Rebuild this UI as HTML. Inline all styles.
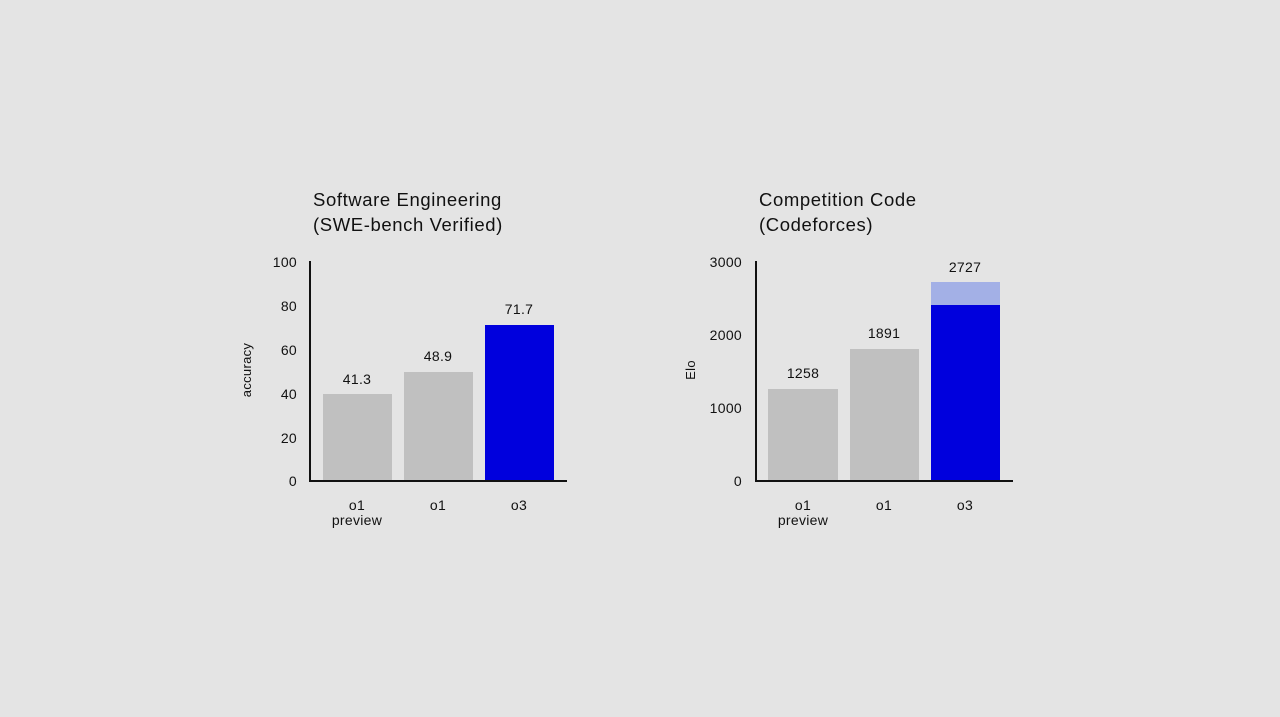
<!DOCTYPE html>
<html><head><style>
body{margin:0;background:#e4e4e4;}
svg{display:block;font-family:"Liberation Sans",sans-serif;}
</style></head><body>
<svg width="1280" height="717" viewBox="0 0 1280 717">
<rect width="1280" height="717" fill="#e4e4e4"/>
<g fill="#111" font-size="18.5" letter-spacing="0.6">
<text x="313" y="206">Software Engineering</text>
<text x="313" y="231">(SWE-bench Verified)</text>
<text x="759" y="206">Competition Code</text>
<text x="759" y="231">(Codeforces)</text>
</g>
<!-- left chart -->
<rect x="323" y="394" width="69" height="87" fill="#c0c0c0"/>
<rect x="404" y="372" width="69" height="109" fill="#c0c0c0"/>
<rect x="485" y="325" width="69" height="156" fill="#0000dd"/>
<path d="M310 261V481H567" stroke="#111" stroke-width="2" fill="none"/>
<g font-size="14" fill="#111" text-anchor="end" letter-spacing="0.3">
<text x="297" y="267">100</text><text x="297" y="311">80</text><text x="297" y="355">60</text>
<text x="297" y="399">40</text><text x="297" y="443">20</text><text x="297" y="486">0</text>
</g>
<g font-size="14" fill="#111" text-anchor="middle" letter-spacing="0.3">
<text x="357" y="384">41.3</text><text x="438" y="361">48.9</text><text x="519" y="314">71.7</text>
<text x="357" y="510">o1</text><text x="357" y="525">preview</text>
<text x="438" y="510">o1</text><text x="519" y="510">o3</text>
<text transform="translate(251,370) rotate(-90)" font-size="13">accuracy</text>
</g>
<!-- right chart -->
<rect x="768" y="389" width="70" height="92" fill="#c0c0c0"/>
<rect x="850" y="349" width="69" height="132" fill="#c0c0c0"/>
<rect x="931" y="282" width="69" height="23" fill="#a3b0e6"/>
<rect x="931" y="305" width="69" height="176" fill="#0000dd"/>
<path d="M756 261V481H1013" stroke="#111" stroke-width="2" fill="none"/>
<g font-size="14" fill="#111" text-anchor="end" letter-spacing="0.3">
<text x="742" y="267">3000</text><text x="742" y="340">2000</text><text x="742" y="413">1000</text><text x="742" y="486">0</text>
</g>
<g font-size="14" fill="#111" text-anchor="middle" letter-spacing="0.3">
<text x="803" y="378">1258</text><text x="884" y="338">1891</text><text x="965" y="272">2727</text>
<text x="803" y="510">o1</text><text x="803" y="525">preview</text>
<text x="884" y="510">o1</text><text x="965" y="510">o3</text>
<text transform="translate(695,370) rotate(-90)" font-size="13">Elo</text>
</g>
</svg>
</body></html>
